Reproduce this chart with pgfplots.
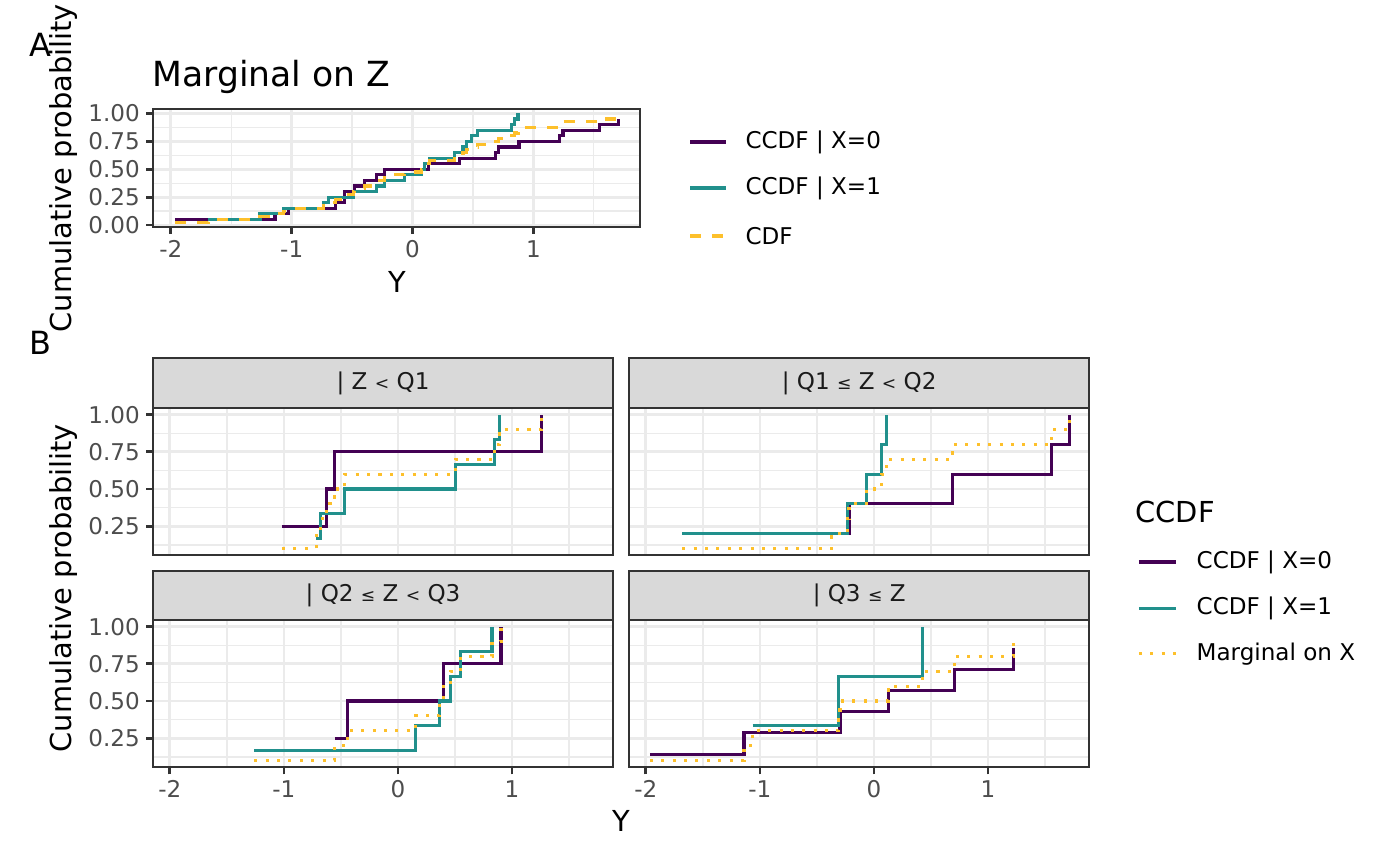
\documentclass[border=0pt]{standalone}
\usepackage{pgfplots}
\pgfplotsset{compat=1.18}
\usepackage{fontspec}
\setmainfont{DejaVu Sans}
\definecolor{cpurple}{HTML}{440154}
\definecolor{cteal}{HTML}{21908C}
\definecolor{cyell}{HTML}{FDC02B}
\definecolor{gridc}{HTML}{EBEBEB}
\definecolor{bordc}{HTML}{333333}
\definecolor{tickc}{HTML}{4D4D4D}
\definecolor{stripc}{HTML}{D9D9D9}
\definecolor{striptext}{HTML}{1A1A1A}
\newcommand{\sle}{{\fontsize{6.2}{8}\selectfont ≤}}
\newcommand{\slt}{{\fontsize{6.2}{8}\selectfont <}}
\pgfplotsset{
  base/.style={
    scale only axis,
    xmin=-2.145, xmax=1.885,
    axis line style={bordc, line width=0.8pt},
    grid=both,
    major grid style={gridc, line width=1.0pt},
    minor grid style={gridc, line width=0.5pt},
    xtick={-2,-1,0,1}, xticklabels={-2,-1,0,1},
    minor xtick={-1.5,-0.5,0.5,1.5},
    tick align=outside,
    major tick length=2.6pt,
    minor tick length=0pt,
    tick style={bordc, line width=1.0pt},
    xtick pos=left, ytick pos=left,
    tick label style={font=\fontsize{8.3}{10}\selectfont, text=tickc},
    yticklabel style={inner sep=0pt, xshift=-2.1pt},
    xticklabel style={inner sep=0pt, yshift=-2.1pt},
    every axis plot/.append style={line width=1.12pt, const plot mark left, mark=none, line cap=butt, line join=miter},
  },
  facet/.style={base,
    width=165.49pt, height=53.0pt,
    ymin=0.055, ymax=1.045,
    ytick={0.25,0.5,0.75,1}, yticklabels={0.25,0.50,0.75,1.00},
    minor ytick={0.125,0.375,0.625,0.875},
  },
  dotl/.style={cyell, dash pattern=on 1.1pt off 3pt},
}
\begin{document}
\begin{tikzpicture}
\useasboundingbox (0,0) rectangle (504pt,-311.76pt);

% ---------- Panel A ----------
\begin{axis}[base, at={(55.19pt,-39.24pt)}, anchor=north west,
  width=175.32pt, height=42.37pt,
  ymin=-0.015, ymax=1.04,
  ytick={0,0.25,0.5,0.75,1}, yticklabels={0.00,0.25,0.50,0.75,1.00},
  minor ytick={0.125,0.375,0.625,0.875}]
\addplot[cpurple] coordinates {(-1.964,0.05) (-1.138,0.10) (-1.028,0.15) (-0.636,0.20) (-0.560,0.30) (-0.477,0.35) (-0.394,0.40) (-0.298,0.45) (-0.229,0.50) (0.129,0.55) (0.391,0.60) (0.688,0.65) (0.708,0.70) (0.881,0.75) (1.217,0.80) (1.245,0.85) (1.548,0.90) (1.708,0.95)};
\addplot[cteal] coordinates {(-1.69,0.05) (-1.262,0.10) (-1.069,0.15) (-0.739,0.20) (-0.697,0.25) (-0.491,0.30) (-0.298,0.35) (-0.229,0.40) (-0.064,0.45) (0.074,0.50) (0.102,0.55) (0.143,0.60) (0.350,0.65) (0.418,0.70) (0.446,0.75) (0.488,0.80) (0.540,0.85) (0.818,0.90) (0.846,0.95) (0.873,1.00)};
\addplot[cyell, dash pattern=on 4pt off 4pt] coordinates {(-1.964,0.025) (-1.69,0.05) (-1.262,0.075) (-1.138,0.10) (-1.069,0.125) (-1.028,0.15) (-0.739,0.175) (-0.697,0.20) (-0.636,0.225) (-0.560,0.275) (-0.491,0.30) (-0.477,0.325) (-0.394,0.35) (-0.298,0.40) (-0.229,0.45) (-0.064,0.475) (0.074,0.50) (0.102,0.525) (0.129,0.55) (0.143,0.575) (0.350,0.60) (0.391,0.625) (0.418,0.65) (0.446,0.675) (0.488,0.70) (0.540,0.725) (0.688,0.75) (0.708,0.775) (0.818,0.80) (0.846,0.825) (0.873,0.85) (0.881,0.875) (1.217,0.90) (1.245,0.925) (1.548,0.95) (1.708,0.975)};
\end{axis}

% ---------- Facets ----------
\begin{axis}[facet, at={(55.19pt,-146.88pt)}, anchor=north west, xmajorticks=false]
\addplot[cpurple] coordinates {(-1.017,0.25) (-0.627,0.5) (-0.557,0.75) (1.261,1.0)};
\addplot[cteal] coordinates {(-0.718,0.1667) (-0.680,0.3333) (-0.469,0.5) (0.501,0.6667) (0.844,0.8333) (0.888,1.0)};
\addplot[dotl] coordinates {(-1.017,0.1) (-0.718,0.2) (-0.680,0.3) (-0.627,0.4) (-0.557,0.5) (-0.469,0.6) (0.501,0.7) (0.844,0.8) (0.888,0.9) (1.261,1.0)};
\end{axis}

\begin{axis}[facet, at={(226.55pt,-146.88pt)}, anchor=north west, xmajorticks=false, ymajorticks=false]
\addplot[cpurple] coordinates {(-0.371,0.2) (-0.219,0.4) (0.690,0.6) (1.559,0.8) (1.713,1.0)};
\addplot[cteal] coordinates {(-1.681,0.2) (-0.231,0.4) (-0.067,0.6) (0.067,0.8) (0.111,1.0)};
\addplot[dotl] coordinates {(-1.681,0.1) (-0.371,0.2) (-0.231,0.3) (-0.219,0.4) (-0.067,0.5) (0.067,0.6) (0.111,0.7) (0.690,0.8) (1.559,0.9) (1.713,1.0)};
\end{axis}

\begin{axis}[facet, at={(55.19pt,-223.2pt)}, anchor=north west]
\addplot[cpurple] coordinates {(-0.554,0.25) (-0.445,0.5) (0.399,0.75) (0.903,1.0)};
\addplot[cteal] coordinates {(-1.260,0.1667) (0.156,0.3333) (0.364,0.5) (0.463,0.6667) (0.551,0.8333) (0.824,1.0)};
\addplot[dotl] coordinates {(-1.260,0.1) (-0.554,0.2) (-0.445,0.3) (0.156,0.4) (0.364,0.5) (0.399,0.6) (0.463,0.7) (0.551,0.8) (0.824,0.9) (0.903,1.0)};
\end{axis}

\begin{axis}[facet, at={(226.55pt,-223.2pt)}, anchor=north west, ymajorticks=false]
\addplot[cpurple] coordinates {(-1.965,0.1429) (-1.140,0.2857) (-0.298,0.4286) (0.126,0.5714) (0.702,0.7143) (1.222,0.8571)};
\addplot[cteal] coordinates {(-1.064,0.3333) (-0.310,0.6667) (0.424,1.0)};
\addplot[dotl] coordinates {(-1.965,0.1) (-1.140,0.2) (-1.064,0.3) (-0.310,0.4) (-0.298,0.5) (0.126,0.6) (0.424,0.7) (0.702,0.8) (1.222,0.9)};
\end{axis}

% ---------- Strips ----------
\begin{scope}[every node/.style={font=\fontsize{8.3}{10}\selectfont, text=striptext}]
\draw[fill=stripc, draw=bordc, line width=0.8pt] (55.19pt,-128.99pt) rectangle (220.68pt,-146.88pt);
\draw[fill=stripc, draw=bordc, line width=0.8pt] (226.55pt,-128.99pt) rectangle (392.04pt,-146.88pt);
\draw[fill=stripc, draw=bordc, line width=0.8pt] (55.19pt,-205.56pt) rectangle (220.68pt,-223.2pt);
\draw[fill=stripc, draw=bordc, line width=0.8pt] (226.55pt,-205.56pt) rectangle (392.04pt,-223.2pt);
\node at (137.9pt,-137.9pt) {| Z \slt{} Q1};
\node at (309.3pt,-137.9pt) {| Q1 \sle{} Z \slt{} Q2};
\node at (137.9pt,-214.4pt) {| Q2 \sle{} Z \slt{} Q3};
\node at (309.3pt,-214.4pt) {| Q3 \sle{} Z};
\end{scope}

% ---------- Titles and labels ----------
\node[font=\fontsize{11.5}{13}\selectfont] at (14.6pt,-16.2pt) {A};
\node[font=\fontsize{11.5}{13}\selectfont] at (14.4pt,-123.5pt) {B};
\node[font=\fontsize{12.45}{14}\selectfont, anchor=base west, inner sep=0pt] at (54.7pt,-31.3pt) {Marginal on Z};
\node[font=\fontsize{10.4}{12}\selectfont, rotate=90] at (22.7pt,-60.5pt) {Cumulative probability};
\node[font=\fontsize{10.4}{12}\selectfont, rotate=90] at (22.7pt,-211.7pt) {Cumulative probability};
\node[font=\fontsize{10.4}{12}\selectfont] at (142.9pt,-101.5pt) {Y};
\node[font=\fontsize{10.4}{12}\selectfont] at (223.6pt,-295.6pt) {Y};

% ---------- Legend A ----------
\begin{scope}[every node/.style={font=\fontsize{8.3}{10}\selectfont, anchor=west, inner sep=0pt}]
\draw[cpurple, line width=1.12pt] (248.4pt,-51.12pt) -- (261.4pt,-51.12pt);
\draw[cteal, line width=1.12pt] (248.4pt,-67.68pt) -- (261.4pt,-67.68pt);
\draw[cyell, line width=1.12pt, dash pattern=on 4pt off 4pt] (248.4pt,-84.96pt) -- (261.4pt,-84.96pt);
\node at (268.2pt,-51.12pt) {CCDF | X=0};
\node at (268.2pt,-67.68pt) {CCDF | X=1};
\node at (268.2pt,-84.96pt) {CDF};
% ---------- Legend B ----------
\node[font=\fontsize{10.4}{12}\selectfont] at (408.6pt,-184.3pt) {CCDF};
\draw[cpurple, line width=1.12pt] (410.0pt,-202.3pt) -- (423.4pt,-202.3pt);
\draw[cteal, line width=1.12pt] (410.0pt,-218.9pt) -- (423.4pt,-218.9pt);
\draw[cyell, line width=1.12pt, dash pattern=on 1.1pt off 3pt] (410.0pt,-235.4pt) -- (423.4pt,-235.4pt);
\node at (430.6pt,-202.3pt) {CCDF | X=0};
\node at (430.6pt,-218.9pt) {CCDF | X=1};
\node at (430.6pt,-235.4pt) {Marginal on X};
\end{scope}
\end{tikzpicture}
\end{document}
